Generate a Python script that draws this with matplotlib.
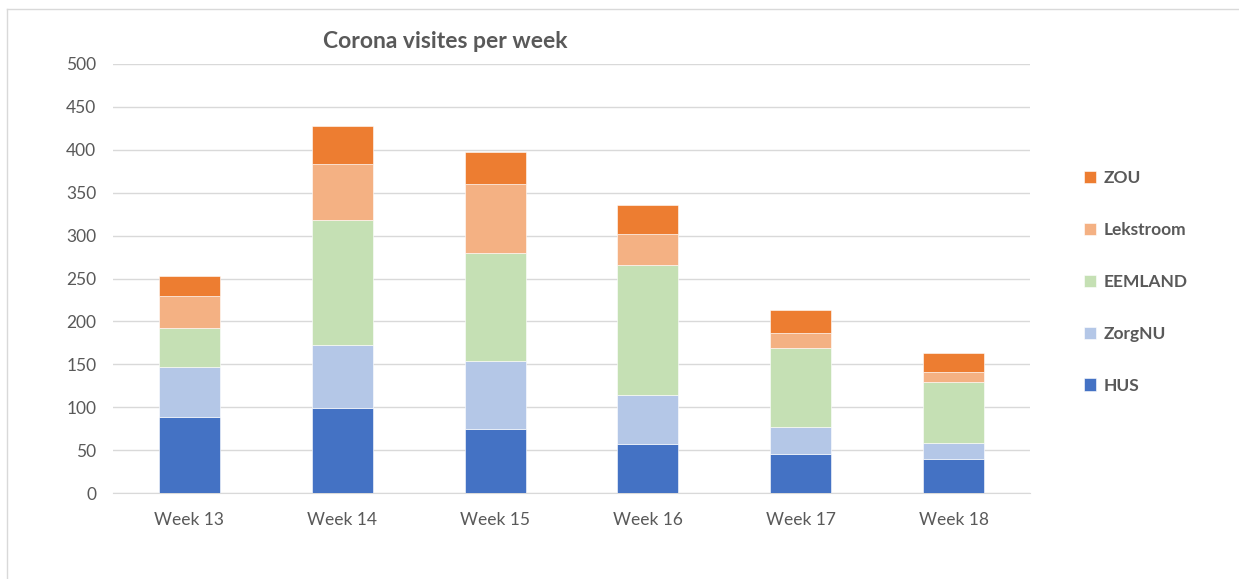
import matplotlib.pyplot as plt
import numpy as np

weeks = ['Week 13', 'Week 14', 'Week 15', 'Week 16', 'Week 17', 'Week 18']
hus = [89, 99, 75, 57, 46, 40]
zorgnu = [58, 73, 79, 57, 31, 18]
eemland = [45, 146, 126, 152, 92, 71]
lekstroom = [38, 65, 80, 36, 17, 12]
zou = [23, 45, 37, 34, 27, 22]

series = [
    ('HUS', hus, '#4472C4'),
    ('ZorgNU', zorgnu, '#B4C7E7'),
    ('EEMLAND', eemland, '#C5E0B4'),
    ('Lekstroom', lekstroom, '#F4B183'),
    ('ZOU', zou, '#ED7D31'),
]

plt.rcParams['font.family'] = ['Lato', 'DejaVu Sans']
grey = '#595959'

fig = plt.figure(figsize=(12.39, 5.79), dpi=100)
ax = fig.add_axes([113 / 1239, 1 - 493 / 579, (1030 - 113) / 1239, (493 - 64) / 579])

x = np.arange(len(weeks))
bottom = np.zeros(len(weeks))
handles = []
for name, vals, col in series:
    b = ax.bar(x, vals, width=0.4, bottom=bottom, color=col, label=name,
               edgecolor='white', linewidth=0.4, zorder=3)
    handles.append(b)
    bottom += np.array(vals)

ax.set_xlim(-0.5, len(weeks) - 0.5)
ax.set_ylim(0, 500)
ax.set_yticks(range(0, 501, 50))
ax.set_xticks(x)
ax.set_xticklabels(weeks)
ax.tick_params(axis='both', length=0, labelsize=12.5, colors=grey)
ax.tick_params(axis='y', pad=12)
ax.tick_params(axis='x', pad=14)
ax.grid(axis='y', color='#d9d9d9', linewidth=1, zorder=0)
for s in ['top', 'right', 'left']:
    ax.spines[s].set_visible(False)
ax.spines['bottom'].set_color('#d9d9d9')

fig.text(445 / 1239, 1 - 42 / 579, 'Corona visites per week', ha='center', va='center',
         fontsize=16.5, fontweight='bold', color=grey)

leg = fig.legend(handles[::-1], [s[0] for s in series][::-1],
                 loc='center left', bbox_to_anchor=(1068 / 1239, 1 - 282 / 579),
                 frameon=False, labelspacing=2.06, handlelength=0.7, handleheight=0.7,
                 handletextpad=0.45, fontsize=12.5)
for t in leg.get_texts():
    t.set_color(grey)
    t.set_fontweight('bold')

# chart border
fig.add_artist(plt.Line2D([7 / 1239, 7 / 1239], [0, 1 - 9 / 579], transform=fig.transFigure,
                          color='#d9d9d9', linewidth=1))
fig.add_artist(plt.Line2D([7 / 1239, 1], [1 - 9 / 579, 1 - 9 / 579], transform=fig.transFigure,
                          color='#d9d9d9', linewidth=1))

fig.savefig('out.png', dpi=100)
